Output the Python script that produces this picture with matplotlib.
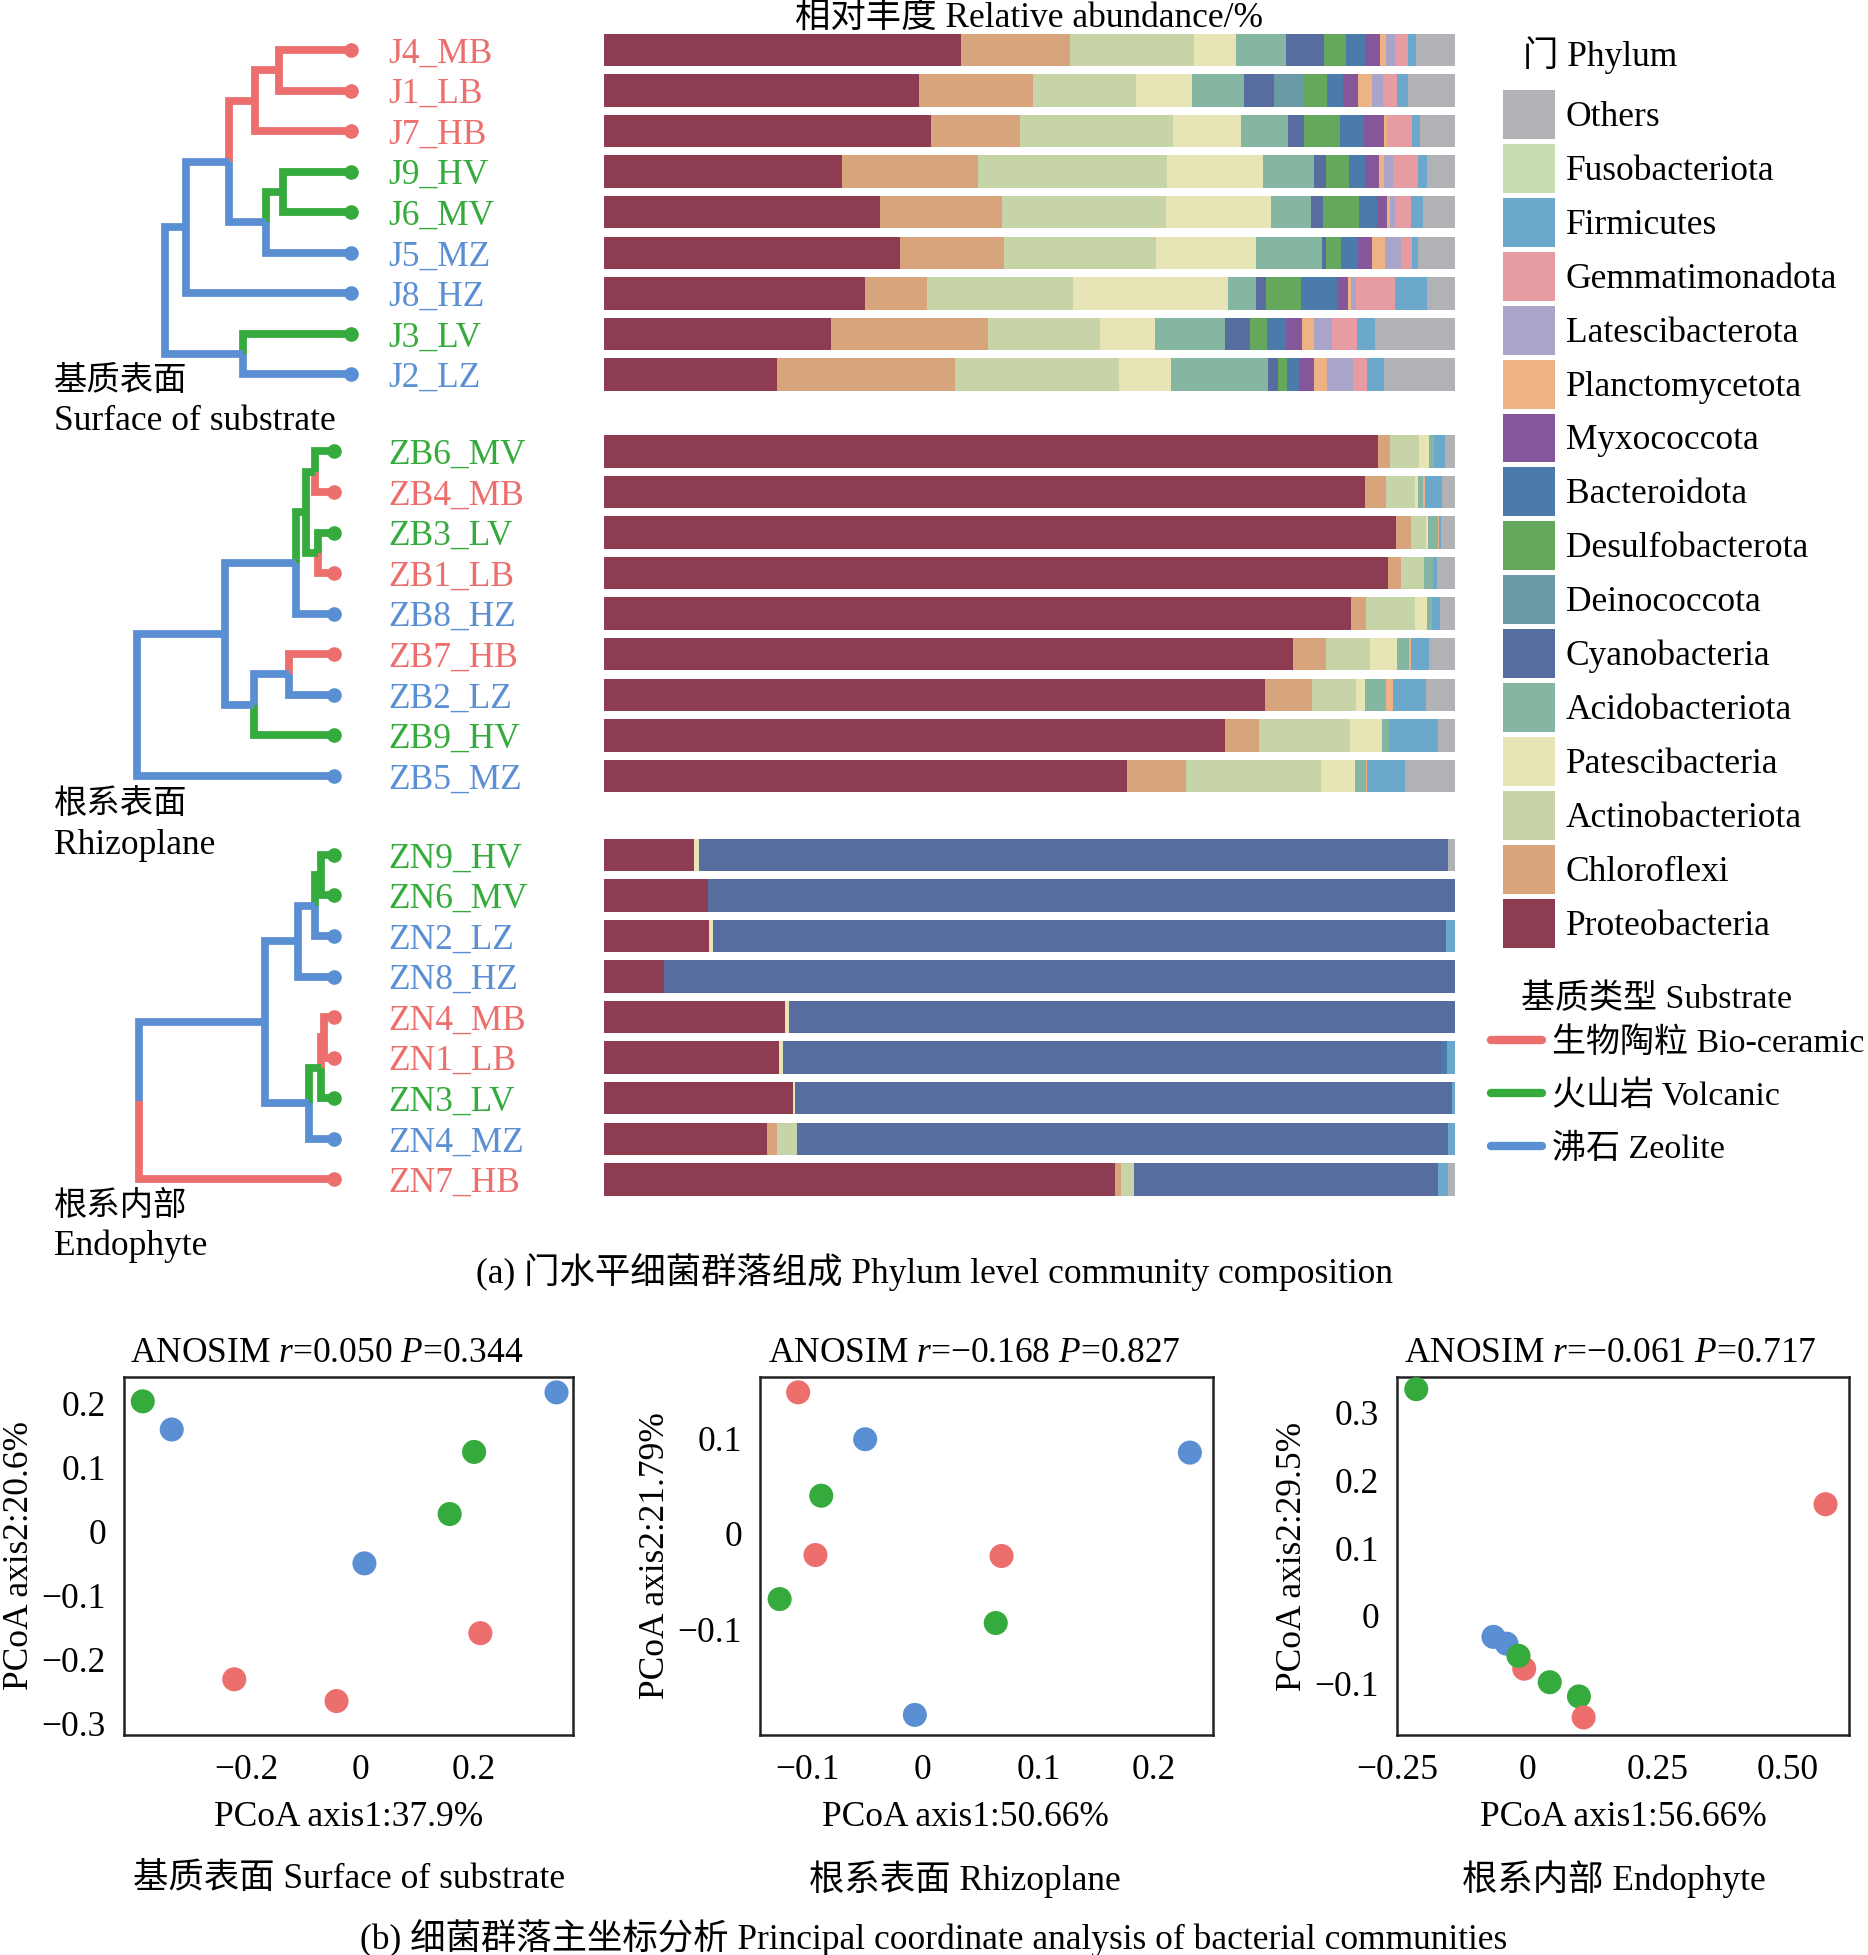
import matplotlib
matplotlib.use("Agg")
import matplotlib.pyplot as plt
import matplotlib.transforms as mtransforms
from matplotlib.patches import Patch
from matplotlib.lines import Line2D
import numpy as np

plt.rcParams['font.family'] = ['Liberation Serif', 'Noto Sans CJK SC']
plt.rcParams['mathtext.fontset'] = 'custom'
plt.rcParams['mathtext.rm'] = 'Liberation Serif'
plt.rcParams['mathtext.it'] = 'Liberation Serif:italic'
FS = 25.5

# ---------------- data: samples ----------------
samples_J = ['J4_MB', 'J1_LB', 'J7_HB', 'J9_HV', 'J6_MV', 'J5_MZ', 'J8_HZ', 'J3_LV', 'J2_LZ']
samples_ZB = ['ZB6_MV', 'ZB4_MB', 'ZB3_LV', 'ZB1_LB', 'ZB8_HZ', 'ZB7_HB', 'ZB2_LZ', 'ZB9_HV', 'ZB5_MZ']
samples_ZN = ['ZN9_HV', 'ZN6_MV', 'ZN2_LZ', 'ZN8_HZ', 'ZN4_MB', 'ZN1_LB', 'ZN3_LV', 'ZN4_MZ', 'ZN7_HB']

# relative abundance (%) per phylum, sample order J, ZB, ZN
proteobacteria = [41.9, 37.0, 38.4, 28.0, 32.5, 34.8, 30.6, 26.7, 20.4,
                  91.1, 89.5, 93.1, 92.1, 87.8, 81.0, 77.7, 73.0, 61.5,
                  10.6, 12.2, 12.3, 7.0, 21.3, 20.6, 22.2, 19.2, 60.1]
chloroflexi = [12.9, 13.4, 10.5, 16.0, 14.3, 12.2, 7.3, 18.5, 20.9,
               1.4, 2.5, 1.7, 1.6, 1.7, 3.9, 5.6, 4.1, 6.9,
               0, 0, 0, 0, 0, 0, 0, 1.1, 0.7]
actinobacteriota = [14.5, 12.1, 18.0, 22.1, 19.3, 17.9, 17.2, 13.1, 19.3,
                    3.4, 3.4, 1.8, 2.7, 5.8, 5.2, 5.2, 10.7, 15.9,
                    0, 0, 0, 0, 0, 0, 0, 2.4, 1.5]
patescibacteria = [5.0, 6.5, 7.9, 11.3, 12.4, 11.7, 18.1, 6.5, 6.1,
                   1.1, 0.3, 0.2, 0, 1.4, 3.2, 1.0, 3.7, 4.0,
                   0.6, 0, 0.5, 0, 0.4, 0.5, 0.3, 0, 0]
acidobacteriota = [5.8, 6.1, 5.6, 6.0, 4.7, 7.8, 3.3, 8.2, 11.4,
                   0.6, 0.6, 1.2, 1.0, 0.6, 1.4, 2.5, 0.8, 1.2,
                   0, 0, 0, 0, 0, 0, 0, 0, 0]
cyanobacteria = [4.5, 3.5, 1.8, 1.4, 1.4, 0.5, 1.2, 3.0, 1.2,
                 0, 0, 0, 0, 0, 0, 0, 0, 0,
                 88.0, 87.8, 86.1, 93.0, 78.3, 77.4, 77.1, 76.5, 35.7]
deinococcota = [0, 3.4, 0, 0, 0, 0, 0, 0, 0,
                0, 0, 0, 0, 0, 0, 0, 0, 0,
                0, 0, 0, 0, 0, 0, 0, 0, 0]
desulfobacterota = [2.6, 2.9, 4.3, 2.8, 4.2, 1.7, 4.1, 2.0, 1.0,
                    0, 0, 0, 0, 0, 0, 0, 0, 0,
                    0, 0, 0, 0, 0, 0, 0, 0, 0]
bacteroidota = [2.2, 1.8, 2.8, 1.8, 2.1, 2.0, 4.3, 2.2, 1.4,
                0, 0, 0, 0, 0, 0, 0, 0, 0,
                0, 0, 0, 0, 0, 0.7, 0, 0, 0]
myxococcota = [1.8, 1.8, 2.3, 1.7, 1.2, 1.7, 1.2, 1.9, 1.8,
               0, 0, 0, 0, 0, 0, 0, 0, 0,
               0, 0, 0, 0, 0, 0, 0, 0, 0]
planctomycetota = [0.7, 1.6, 0.4, 0.5, 0.3, 1.5, 0.4, 1.4, 1.6,
                   0, 0.3, 0.1, 0, 0, 0.2, 0.8, 0, 0.2,
                   0, 0, 0, 0, 0, 0, 0, 0, 0]
latescibacterota = [1.0, 1.4, 0, 1.1, 0.7, 1.8, 0.6, 2.1, 3.0,
                    0, 0, 0, 0, 0, 0, 0, 0, 0,
                    0, 0, 0, 0, 0, 0, 0, 0, 0]
gemmatimonadota = [1.6, 1.6, 2.9, 3.0, 1.8, 1.4, 4.5, 3.0, 1.7,
                   0, 0, 0, 0, 0, 0, 0, 0, 0,
                   0, 0, 0, 0, 0, 0, 0, 0, 0]
firmicutes = [0.9, 1.3, 1.0, 1.0, 1.4, 0.7, 3.8, 2.1, 2.0,
              1.3, 2.0, 0.3, 0.5, 0.9, 2.1, 3.9, 5.8, 4.4,
              0, 0, 1.1, 0, 0, 0.9, 0.4, 0.8, 1.2]
fusobacteriota = [0, 0, 0, 0, 0, 0, 0, 0, 0,
                  0, 0, 0, 0, 0, 0, 0, 0, 0,
                  0, 0, 0, 0, 0, 0, 0, 0, 0]
others = [4.6, 5.5, 4.1, 3.3, 3.8, 4.3, 3.3, 9.4, 8.3,
          1.2, 1.5, 1.6, 2.1, 1.8, 3.1, 3.4, 2.0, 5.9,
          0.8, 0, 0, 0, 0, 0, 0, 0, 0.8]

phyla = ['Proteobacteria', 'Chloroflexi', 'Actinobacteriota', 'Patescibacteria',
         'Acidobacteriota', 'Cyanobacteria', 'Deinococcota', 'Desulfobacterota',
         'Bacteroidota', 'Myxococcota', 'Planctomycetota', 'Latescibacterota',
         'Gemmatimonadota', 'Firmicutes', 'Fusobacteriota', 'Others']
phylum_values = [proteobacteria, chloroflexi, actinobacteriota, patescibacteria,
                 acidobacteriota, cyanobacteria, deinococcota, desulfobacterota,
                 bacteroidota, myxococcota, planctomycetota, latescibacterota,
                 gemmatimonadota, firmicutes, fusobacteriota, others]
phylum_colors = ['#8E3C52', '#D8A47B', '#C6D4A7', '#E7E5B5', '#85B6A2', '#586D9F',
                 '#6B9AA7', '#66A75E', '#4A7BAA', '#85579A', '#EDB384', '#ABA4C9',
                 '#E69CA2', '#6CA8CC', '#C9DCAF', '#B1B2B6']

# ---------------- data: clustering trees ----------------
# (child a, child b, height, colour code of the merged node); indices >= 9 are earlier merges
tree_J = [(0, 1, 57.7, 'B'), (9, 2, 77.0, 'B'), (3, 4, 54.5, 'V'), (11, 5, 68.6, 'Z'),
          (10, 12, 98.2, 'Z'), (13, 6, 132.5, 'Z'), (7, 8, 86.7, 'Z'), (14, 15, 149.0, 'Z')]
tree_ZB = [(0, 1, 15.3, 'V'), (2, 3, 12.8, 'V'), (9, 10, 22.3, 'V'), (11, 4, 30.5, 'Z'),
           (5, 6, 36.0, 'Z'), (13, 7, 64.0, 'Z'), (12, 14, 87.2, 'Z'), (15, 8, 158.0, 'Z')]
tree_ZN = [(0, 1, 10.7, 'V'), (9, 2, 15.3, 'Z'), (10, 3, 29.0, 'Z'), (4, 5, 8.2, 'B'),
           (12, 6, 10.7, 'V'), (13, 7, 19.8, 'Z'), (11, 14, 55.5, 'Z'), (15, 8, 157.0, 'Z')]

substrate_colors = {'B': '#EC6F6D', 'V': '#35AB3D', 'Z': '#5B8FD3'}
substrate_labels = ['生物陶粒 Bio-ceramic', '火山岩 Volcanic', '沸石 Zeolite']

# ---------------- data: PCoA ----------------
pcoa1_x = [-0.383, -0.332, 0.345, 0.200, 0.157, 0.007, 0.211, -0.222, -0.042]
pcoa1_y = [0.203, 0.159, 0.217, 0.124, 0.027, -0.050, -0.159, -0.231, -0.265]
pcoa1_s = ['V', 'Z', 'Z', 'V', 'V', 'Z', 'B', 'B', 'B']
pcoa2_x = [-0.108, -0.050, 0.231, -0.088, -0.093, 0.068, -0.124, 0.063, -0.007]
pcoa2_y = [0.148, 0.099, 0.085, 0.040, -0.022, -0.023, -0.068, -0.093, -0.189]
pcoa2_s = ['B', 'Z', 'Z', 'V', 'B', 'B', 'V', 'V', 'Z']
pcoa3_x = [-0.213, 0.572, -0.065, -0.040, -0.006, -0.017, 0.043, 0.099, 0.108]
pcoa3_y = [0.335, 0.165, -0.031, -0.041, -0.078, -0.059, -0.098, -0.119, -0.150]
pcoa3_s = ['V', 'B', 'Z', 'Z', 'B', 'V', 'V', 'V', 'B']

W, H = 1868, 1955
fig = plt.figure(figsize=(W / 100, H / 100), dpi=100)


def fx(px):
    return px / W


def fy(py):
    return 1 - py / H


def rect(x0, y0, x1, y1):
    return [fx(x0), fy(y1), (x1 - x0) / W, (y1 - y0) / H]


# ---------------- stacked bars ----------------
group_offsets = [0, 9.9, 19.85]
groups = [samples_J, samples_ZB, samples_ZN]
ypos = []
names = []
for off, g in zip(group_offsets, groups):
    for i, s in enumerate(g):
        ypos.append(off + i)
        names.append(s)
ypos = np.array(ypos)

vals = np.array(phylum_values, dtype=float)
vals = vals / vals.sum(axis=0) * 100

axb = fig.add_axes(rect(604, 30, 1455, 1200))
left = np.zeros(len(names))
for v, c in zip(vals, phylum_colors):
    axb.barh(ypos, v, left=left, height=0.8, color=c, linewidth=0)
    left += v
axb.set_xlim(0, 100)
axb.set_ylim(28.36, -0.493)
axb.axis('off')

# sample labels
trans = mtransforms.blended_transform_factory(fig.transFigure, axb.transData)
for y, s in zip(ypos, names):
    axb.text(fx(388), y, s, transform=trans, color=substrate_colors[s[-1]],
             fontsize=FS, va='center_baseline', ha='left')

fig.text(fx(1029), fy(18), '相对丰度 Relative abundance/%', fontsize=FS,
         ha='center', va='center')


# ---------------- dendrograms ----------------
def draw_tree(ax, merges, leaves, offset):
    ys = [offset + i for i in range(len(leaves))]
    hs = [0.0] * len(leaves)
    cols = [substrate_colors[s[-1]] for s in leaves]
    for a, b, h, code in merges:
        ymid = (ys[a] + ys[b]) / 2
        for c in (a, b):
            ax.plot([h, h, hs[c]], [ymid, ys[c], ys[c]], color=cols[c], lw=5.6,
                    solid_joinstyle='miter', solid_capstyle='butt', clip_on=False)
        ys.append(ymid)
        hs.append(h)
        cols.append(substrate_colors[code])
    for i in range(len(leaves)):
        ax.plot(0, ys[i], 'o', color=cols[i], ms=9.5, clip_on=False)


tree_right = [351, 334, 334]
for g, merges, off, xr in zip(groups, [tree_J, tree_ZB, tree_ZN], group_offsets, tree_right):
    axd = fig.add_axes(rect(xr - 200 * 1.245, 30, xr, 1200))
    draw_tree(axd, merges, g, off)
    axd.set_xlim(200, 0)
    axd.set_ylim(28.36, -0.493)
    axd.axis('off')

group_text = [('基质表面', 'Surface of substrate', 381),
              ('根系表面', 'Rhizoplane', 805),
              ('根系内部', 'Endophyte', 1206)]
for zh, en, y in group_text:
    fig.text(fx(54), fy(y), zh, fontsize=FS - 1.5, va='center', ha='left')
    fig.text(fx(54), fy(y + 40), en, fontsize=FS, va='center', ha='left')

# ---------------- legends ----------------
fig.text(fx(1523), fy(55), '门 Phylum', fontsize=FS, va='center', ha='left')
ph_handles = [Patch(facecolor=c, linewidth=0) for c in phylum_colors[::-1]]
fig.legend(ph_handles, phyla[::-1], loc='upper left', bbox_to_anchor=(fx(1503), fy(90)),
           frameon=False, fontsize=FS, handlelength=1.47, handleheight=1.75,
           labelspacing=0.14, handletextpad=0.3, borderpad=0, borderaxespad=0)

fig.text(fx(1521), fy(999), '基质类型 Substrate', fontsize=FS - 1, va='center', ha='left')
sub_handles = [Line2D([], [], color=substrate_colors[k], lw=6, solid_capstyle='round')
               for k in ['B', 'V', 'Z']]
fig.legend(sub_handles, substrate_labels, loc='upper left', bbox_to_anchor=(fx(1491), fy(1027)),
           frameon=False, fontsize=FS - 1, handlelength=1.5, handletextpad=0.3,
           labelspacing=0.64, borderpad=0, borderaxespad=0)

fig.text(0.5, fy(1272), '(a) 门水平细菌群落组成 Phylum level community composition',
         fontsize=FS, ha='center', va='center')

# ---------------- PCoA ----------------
MINUS = '\u2212'


def fmt(v, nd):
    if abs(v) < 1e-9:
        return '0'
    s = f'{abs(v):.{nd}f}'
    return (MINUS + s) if v < 0 else s


panels = [
    (pcoa1_x, pcoa1_y, pcoa1_s, (124, 573), (-0.416, 0.374), (-0.318, 0.241),
     [-0.2, 0, 0.2], 1, [-0.3, -0.2, -0.1, 0, 0.1, 0.2], 1,
     r'ANOSIM $r$=0.050 $P$=0.344', 0.452, 'PCoA axis1:37.9%', 0.5, 'PCoA axis2:20.6%',
     '基质表面 Surface of substrate', 349),
    (pcoa2_x, pcoa2_y, pcoa2_s, (760, 1213), (-0.141, 0.251), (-0.210, 0.164),
     [-0.1, 0, 0.1, 0.2], 1, [-0.1, 0, 0.1], 1,
     r'ANOSIM $r$=' + MINUS + r'0.168 $P$=0.827', 0.473, 'PCoA axis1:50.66%', 0.453,
     'PCoA axis2:21.79%', '根系表面 Rhizoplane', 965),
    (pcoa3_x, pcoa3_y, pcoa3_s, (1397, 1849), (-0.248, 0.617), (-0.176, 0.353),
     [-0.25, 0, 0.25, 0.5], 2, [-0.1, 0, 0.1, 0.2, 0.3], 1,
     r'ANOSIM $r$=' + MINUS + r'0.061 $P$=0.717', 0.473, 'PCoA axis1:56.66%', 0.5,
     'PCoA axis2:29.5%', '根系内部 Endophyte', 1614),
]

for (px_, py_, ps, (x0, x1), xl, yl, xt, xnd, yt, ynd, title, tx, xlab, xlx, ylab,
     sub, subx) in panels:
    ax = fig.add_axes(rect(x0, 1377, x1, 1735))
    ax.scatter(px_, py_, c=[substrate_colors[s] for s in ps], s=300, linewidths=0, zorder=3)
    ax.set_xlim(*xl)
    ax.set_ylim(*yl)
    ax.set_xticks(xt)
    ax.set_xticklabels([fmt(v, xnd) for v in xt])
    ax.set_yticks(yt)
    ax.set_yticklabels([fmt(v, ynd) for v in yt])
    ax.tick_params(length=0, labelsize=FS)
    ax.tick_params(axis='y', pad=13)
    ax.tick_params(axis='x', pad=14)
    for sp in ax.spines.values():
        sp.set_linewidth(1.8)
        sp.set_color('#222222')
    ax.set_title(title, fontsize=FS, pad=11, x=tx)
    wpx = x1 - x0
    ax.set_xlabel(xlab, fontsize=FS)
    ax.xaxis.set_label_coords(xlx, -66 / 358)
    ax.set_ylabel(ylab, fontsize=FS)
    ax.yaxis.set_label_coords(-88 / wpx, 0.5)
    fig.text(fx(subx), fy(1879), sub, fontsize=FS, ha='center', va='center')

fig.text(0.5, fy(1938), '(b) 细菌群落主坐标分析 Principal coordinate analysis of bacterial communities',
         fontsize=FS, ha='center', va='center')

fig.savefig('out.png', dpi=100)
